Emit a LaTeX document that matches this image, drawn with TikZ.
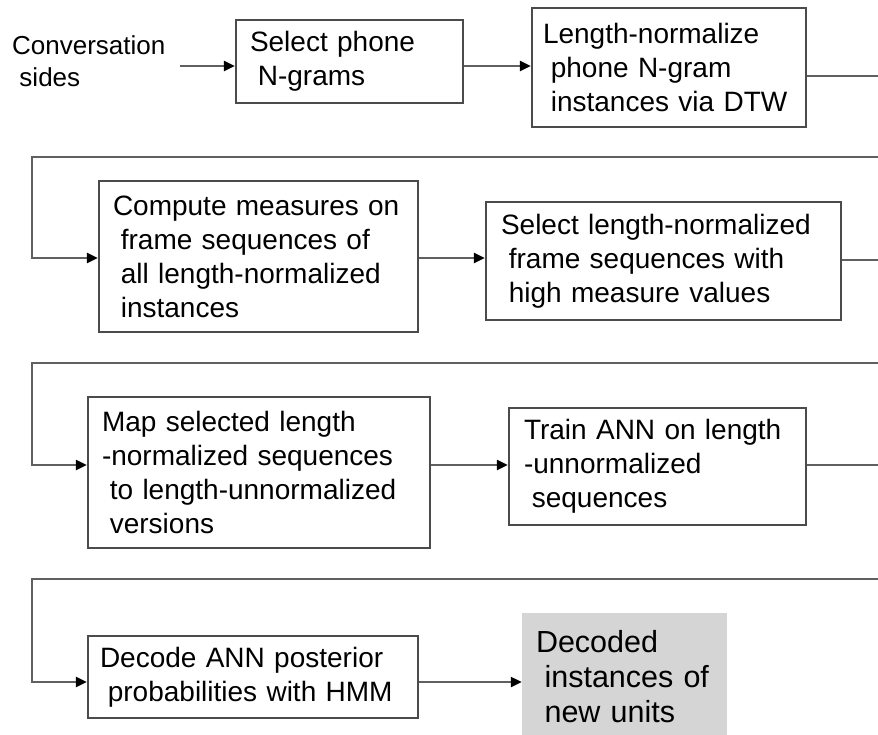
\documentclass[tikz,border=0pt]{standalone}
\usepackage{fontspec}
\setmainfont{Liberation Sans}
\usetikzlibrary{arrows.meta}
\definecolor{linegray}{RGB}{96,96,96}
\definecolor{boxgray}{RGB}{75,75,75}
\definecolor{outfill}{RGB}{213,213,213}
% small leading indent used on continuation lines
\newcommand{\ind}{\hspace*{0.28em}}

\begin{document}
\begin{tikzpicture}[x=1pt,y=-1pt,
  stepbox/.style={draw=boxgray, line width=2.3pt, rectangle, inner ysep=0pt,
    align=left, font=\fontsize{28}{34}\selectfont},
  outbox/.style={fill=outfill, rectangle, inner ysep=0pt, inner xsep=14pt,
    align=left, font=\fontsize{30.5}{35}\selectfont},
  link/.style={draw=linegray, line width=2.2pt},
  flow/.style={link, -{Triangle[length=11pt,width=10pt,color=black]}}]
\useasboundingbox (0,0) rectangle (878,734);

% input label
\node[font=\fontsize{26}{32}\selectfont, align=left, anchor=west, inner sep=0pt]
  (src) at (12,61) {Conversation\\\ind sides};
\coordinate (srcend) at (180,66);

% processing steps
\node[stepbox, inner xsep=14pt, minimum width=227pt, minimum height=83pt, text width=199pt]
  (b1) at (349.5,61.5) {Select phone\\\ind N-grams};
\node[stepbox, inner xsep=11pt, minimum width=274pt, minimum height=119pt, text width=252pt]
  (b2) at (669,67.5) {Length-normalize\\\ind phone N-gram\\\ind instances via DTW};
\node[stepbox, inner xsep=14pt, minimum width=319pt, minimum height=151pt, text width=291pt]
  (b3) at (258.5,256.5) {Compute measures on\\\ind frame sequences of\\\ind all length-normalized\\\ind instances};
\node[stepbox, inner xsep=15pt, minimum width=355pt, minimum height=118pt, text width=325pt]
  (b4) at (663.5,261) {Select length-normalized\\\ind frame sequences with\\\ind high measure values};
\node[stepbox, inner xsep=14pt, minimum width=342pt, minimum height=151pt, text width=314pt]
  (b5) at (259,472.5) {Map selected length\\-normalized sequences\\\ind to length-unnormalized\\\ind versions};
\node[stepbox, inner xsep=15pt, minimum width=297pt, minimum height=117pt, text width=267pt]
  (b6) at (657.5,466.5) {Train ANN on length\\-unnormalized\\\ind sequences};
\node[stepbox, inner xsep=12pt, minimum width=330pt, minimum height=82pt, text width=306pt]
  (b7) at (253,677) {Decode ANN posterior\\\ind probabilities with HMM};

% result
\node[outbox, minimum width=205pt, minimum height=127pt, text width=177pt]
  (out) at (624.5,676.5) {Decoded\\\ind instances of\\\ind new units};

% row 1
\draw[flow] (srcend) -- (srcend -| b1.west);
\draw[flow] (b1.east |- srcend) -- (b2.west |- srcend);
\coordinate (e1) at (878,76);
\draw[link] (b2.east |- e1) -- (e1);

% row 2
\coordinate (t2) at (878,157);
\coordinate (c2) at (32,157);
\coordinate (d2) at (32,258);
\draw[flow] (t2) -- (c2) -- (d2) -- (d2 -| b3.west);
\draw[flow] (d2 -| b3.east) -- (d2 -| b4.west);
\coordinate (e2) at (878,260);
\draw[link] (b4.east |- e2) -- (e2);

% row 3
\coordinate (t3) at (878,363);
\coordinate (c3) at (32,363);
\coordinate (d3) at (32,465);
\draw[flow] (t3) -- (c3) -- (d3) -- (d3 -| b5.west);
\draw[flow] (d3 -| b5.east) -- (d3 -| b6.west);
\coordinate (e3) at (878,465);
\draw[link] (b6.east |- e3) -- (e3);

% row 4
\coordinate (t4) at (878,579);
\coordinate (c4) at (32,579);
\coordinate (d4) at (32,682);
\draw[flow] (t4) -- (c4) -- (d4) -- (d4 -| b7.west);
\draw[flow] (d4 -| b7.east) -- (d4 -| out.west);
\end{tikzpicture}
\end{document}
